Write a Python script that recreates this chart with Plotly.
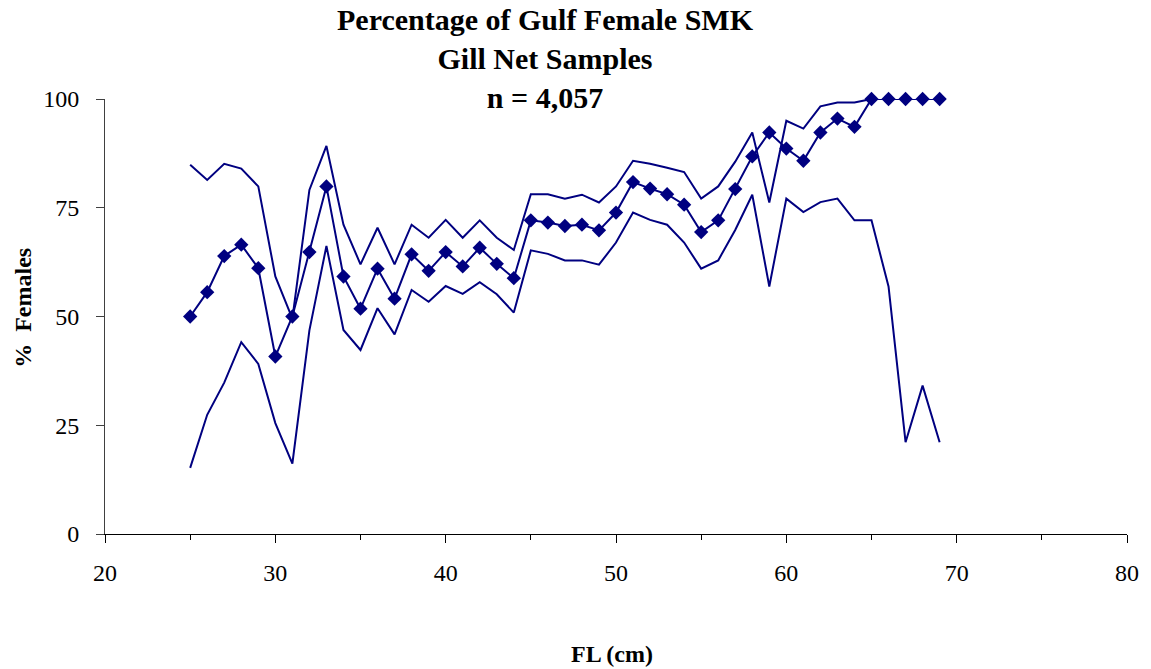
import plotly.graph_objects as go

fl_cm = list(range(25, 70))

pct_female = [50.0, 55.6, 63.9, 66.5, 61.1, 40.8, 50.0, 64.8, 79.9, 59.2,
              51.8, 61.0, 54.1, 64.3, 60.5, 64.8, 61.5, 65.8, 62.1, 58.8,
              72.1, 71.6, 70.8, 71.1, 69.8, 73.9, 80.9, 79.4, 78.1, 75.7,
              69.4, 72.1, 79.3, 86.8, 92.3, 88.6, 85.8, 92.3, 95.5, 93.6,
              100, 100, 100, 100, 100]

upper_ci = [84.9, 81.4, 85.1, 84.0, 79.9, 59.2, 49.5, 79.1, 89.2, 71.1,
            62.0, 70.4, 62.0, 71.1, 68.1, 72.2, 68.1, 72.1, 68.1, 65.3,
            78.1, 78.1, 77.1, 78.0, 76.2, 79.9, 85.8, 85.1, 84.2, 83.2,
            77.1, 79.9, 85.6, 92.3, 76.2, 95.0, 93.2, 98.3, 99.2, 99.2,
            100, 100, 100, 100, 100]

lower_ci = [15.2, 27.4, 34.8, 44.1, 39.1, 25.5, 16.2, 46.8, 66.2, 46.9,
            42.3, 51.9, 45.9, 56.1, 53.4, 57.0, 55.2, 57.9, 55.1, 50.9,
            65.2, 64.4, 62.9, 62.9, 61.9, 67.0, 73.9, 72.2, 71.1, 67.0,
            61.0, 62.9, 69.9, 78.0, 56.9, 77.1, 74.0, 76.3, 77.1, 72.1,
            72.1, 56.9, 21.1, 34.1, 21.1]

title_lines = ["Percentage of Gulf Female SMK", "Gill Net Samples", "n = 4,057"]
x_title = "FL (cm)"
y_title = "%  Females"

NAVY = "#000080"
FONT = "Liberation Serif"

fig = go.Figure()
fig.add_trace(go.Scatter(x=fl_cm, y=upper_ci, mode="lines",
                         line=dict(color=NAVY, width=2), hoverinfo="skip",
                         cliponaxis=False, showlegend=False))
fig.add_trace(go.Scatter(x=fl_cm, y=lower_ci, mode="lines",
                         line=dict(color=NAVY, width=2), hoverinfo="skip",
                         cliponaxis=False, showlegend=False))
fig.add_trace(go.Scatter(x=fl_cm, y=pct_female, mode="lines+markers",
                         line=dict(color=NAVY, width=2),
                         marker=dict(symbol="diamond", size=11, color=NAVY),
                         cliponaxis=False, showlegend=False))

fig.update_layout(
    width=1151, height=669,
    margin=dict(l=105, r=19, t=99, b=135),
    paper_bgcolor="white", plot_bgcolor="white",
    font=dict(family=FONT, color="black", size=24),
    xaxis=dict(range=[20, 80], tick0=20, dtick=10, showgrid=False,
               zeroline=False, showline=True, linecolor="black", linewidth=1,
               ticks="outside", ticklen=8, tickcolor="black", tickwidth=1,
               ticklabelstandoff=9,
               minor=dict(dtick=5, ticks="outside", ticklen=5,
                          tickcolor="black", showgrid=False),
               tickfont=dict(family=FONT, size=24)),
    yaxis=dict(range=[0, 100], tick0=0, dtick=25, showgrid=False,
               zeroline=False, showline=True, linecolor="#404040", linewidth=1,
               ticks="outside", ticklen=8, tickcolor="#404040", tickwidth=1,
               ticklabelstandoff=12,
               tickfont=dict(family=FONT, size=24)),
    annotations=[
        dict(text="<br>".join(title_lines), xref="paper", yref="paper",
             x=0.431, y=1.092, xanchor="center", yanchor="middle",
             showarrow=False, align="center",
             font=dict(family=FONT, size=30, color="black", weight="bold")),
        dict(text=f"<b>{x_title}</b>", xref="paper", yref="paper",
             x=0.4963, y=-0.275, xanchor="center", yanchor="middle",
             showarrow=False, font=dict(family=FONT, size=24, color="black")),
        dict(text=f"<b>{y_title}</b>", xref="paper", yref="paper",
             x=-0.0798, y=0.521, xanchor="center", yanchor="middle",
             textangle=-90, showarrow=False,
             font=dict(family=FONT, size=24, color="black")),
    ],
)

fig.write_html("out.html")
